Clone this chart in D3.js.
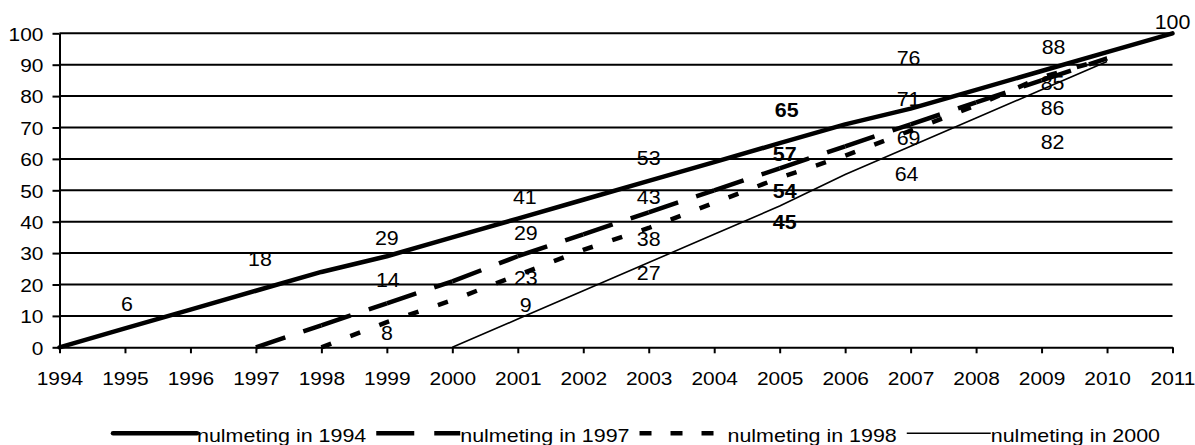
<!DOCTYPE html>
<html>
<head>
<meta charset="utf-8">
<script src="https://cdn.jsdelivr.net/npm/d3@7"></script>
<style>
  html, body { margin: 0; padding: 0; background: #fff; }
  svg { display: block; }
  text { font-family: "Liberation Sans", Arial, sans-serif; fill: #000; }
</style>
</head>
<body>
<svg id="chart" width="1195" height="445"></svg>
<script>
// ---------- data ----------
const years = [1994,1995,1996,1997,1998,1999,2000,2001,2002,2003,2004,2005,2006,2007,2008,2009,2010,2011];
const s1994 = [0,6,12,18,24,29,35,41,47,53,59,65,71,76,82,88,94,100];
const s1997 = [null,null,null,0,7,14,21,29,36,43,50,57,64,71,78,85,92,null];
const s1998 = [null,null,null,null,0,8,15,23,31,38,46,54,61,69,77,86,92,null];
const s2000 = [null,null,null,null,null,null,0,9,18,27,36,45,55,64,73,82,91,null];
const seriesNames = ["nulmeting in 1994","nulmeting in 1997","nulmeting in 1998","nulmeting in 2000"];
const yTicks = [0,10,20,30,40,50,60,70,80,90,100];

const labelYears1994 = [1995,1997,1999,2001,2003,2005,2007,2009,2011];
const labelYears1997 = [1999,2001,2003,2005,2007,2009];
const labelYears1998 = [1999,2001,2003,2005,2007,2009];
const labelYears2000 = [2001,2003,2005,2007,2009];
const boldLabelYear = 2005;

// label nudges (px) relative to the data point, as placed in the original
const labelDx1994 = [2,4,0,7,0,7,-2,12,0];
const labelDy1994 = [-25,-32,-18,-22,-23,-33,-51,-24,-12];
const labelDx1997 = [1,8,0,5,-2,11];
const labelDy1997 = [-24,-23,-15,-15,-26,2];
const labelDx1998 = [0,8,0,5,-2,11];
const labelDy1998 = [11,3,11,13,7,31];
const labelDx2000 = [8,0,5,-4,11];
const labelDy2000 = [-14,10,16,27,52];

// ---------- layout ----------
const svg = d3.select("#chart");
const x = d3.scaleLinear().domain([1994, 2011]).range([59.5, 1172.5]);
const y = d3.scaleLinear().domain([0, 100]).range([347.3, 33.3]);
const TICK_SX = 1.1, LAB_SX = 1.07, LEG_SX = 1.16;

// gridlines
svg.append("g").selectAll("line").data(yTicks.filter(d => d > 0)).join("line")
  .attr("x1", x(1994)).attr("x2", x(2011))
  .attr("y1", d => y(d)).attr("y2", d => y(d))
  .attr("stroke", "#000").attr("stroke-width", 2);

// y axis
const yAxis = svg.append("g").attr("transform", `translate(${x(1994)},0)`)
  .call(d3.axisLeft(y).tickValues(yTicks).tickSize(7).tickSizeOuter(0).tickPadding(0).tickFormat(""));
yAxis.select(".domain").attr("stroke", "#000").attr("stroke-width", 2);
yAxis.selectAll(".tick line").attr("stroke", "#000").attr("stroke-width", 2);
yAxis.selectAll(".tick").append("text")
  .attr("transform", `translate(-16,0) scale(${TICK_SX},1)`)
  .attr("text-anchor", "end").attr("dy", "0.36em")
  .style("font-size", "19px").attr("fill", "#000")
  .text(d => d);

// x axis
const xAxis = svg.append("g").attr("transform", `translate(0,${y(0)})`)
  .call(d3.axisBottom(x).tickValues(years).tickSize(6).tickSizeOuter(0).tickFormat(""));
xAxis.select(".domain").attr("stroke", "#000").attr("stroke-width", 2);
xAxis.selectAll(".tick line").attr("stroke", "#000").attr("stroke-width", 2);
xAxis.selectAll(".tick").append("text")
  .attr("transform", `translate(0,38) scale(${TICK_SX},1)`)
  .attr("text-anchor", "middle")
  .style("font-size", "19px").attr("fill", "#000")
  .text(d => d);

// ---------- series ----------
function pts(vals) {
  return years.map((yr, i) => ({ yr, v: vals[i] })).filter(d => d.v !== null);
}
const line = d3.line().x(d => x(d.yr)).y(d => y(d.v));

const p2000 = pts(s2000), p1998 = pts(s1998), p1997 = pts(s1997), p1994 = pts(s1994);

// 2000 thin solid
svg.append("path").datum(p2000).attr("d", line)
  .attr("fill", "none").attr("stroke", "#000").attr("stroke-width", 1.6);

// 1998 short dashes (continuous pattern)
svg.append("path").datum(p1998).attr("d", line)
  .attr("fill", "none").attr("stroke", "#000").attr("stroke-width", 4.5)
  .attr("stroke-dasharray", "10.5,20.5");

// 1997 long dashes (pattern restarts at every segment)
const segs1997 = d3.pairs(p1997);
svg.append("g").selectAll("path").data(segs1997).join("path")
  .attr("d", d => line(d))
  .attr("fill", "none").attr("stroke", "#000").attr("stroke-width", 4.5)
  .attr("stroke-dasharray", "31,19");

// 1994 thick solid
svg.append("path").datum(p1994).attr("d", line)
  .attr("fill", "none").attr("stroke", "#000").attr("stroke-width", 4.5)
  .attr("stroke-linejoin", "round").attr("stroke-linecap", "round");

// ---------- data labels ----------
function addLabels(vals, lblYears, dxs, dys) {
  const data = lblYears.map((yr, i) => ({ yr, v: vals[years.indexOf(yr)], dx: dxs[i], dy: dys[i] }));
  svg.append("g").selectAll("text").data(data).join("text")
    .attr("transform", d => `translate(${x(d.yr) + d.dx},${y(d.v) + d.dy}) scale(${LAB_SX},1)`)
    .attr("text-anchor", "middle").attr("dy", "0.36em")
    .style("font-size", "20px")
    .style("font-weight", d => d.yr === boldLabelYear ? "bold" : "normal")
    .text(d => d.v);
}
addLabels(s1994, labelYears1994, labelDx1994, labelDy1994);
addLabels(s1997, labelYears1997, labelDx1997, labelDy1997);
addLabels(s1998, labelYears1998, labelDx1998, labelDy1998);
addLabels(s2000, labelYears2000, labelDx2000, labelDy2000);

// ---------- legend ----------
const legendStyles = [
  { w: 4.5, dash: null, cap: "round" },
  { w: 4.5, dash: "38,20", cap: "butt" },
  { w: 4.5, dash: "12,19", cap: "butt" },
  { w: 1.6, dash: null, cap: "butt" }
];
const legY = 433.3, sampleW = 84;
let lx = 113;
const leg = svg.append("g");
seriesNames.forEach((name, i) => {
  const st = legendStyles[i];
  const g = leg.append("g");
  g.append("line").attr("x1", lx).attr("x2", lx + sampleW).attr("y1", legY).attr("y2", legY)
    .attr("stroke", "#000").attr("stroke-width", st.w).attr("stroke-linecap", st.cap)
    .attr("stroke-dasharray", st.dash);
  const t = g.append("text")
    .attr("transform", `translate(${lx + sampleW + (i === 2 ? 4 : 0)},${legY + 8.3}) scale(${LEG_SX},1)`)
    .style("font-size", "18.5px").text(name);
  const tw = t.node().getComputedTextLength() * LEG_SX;
  lx += sampleW + tw + 10 + (i === 2 ? 4 : 0);
});
</script>
</body>
</html>
